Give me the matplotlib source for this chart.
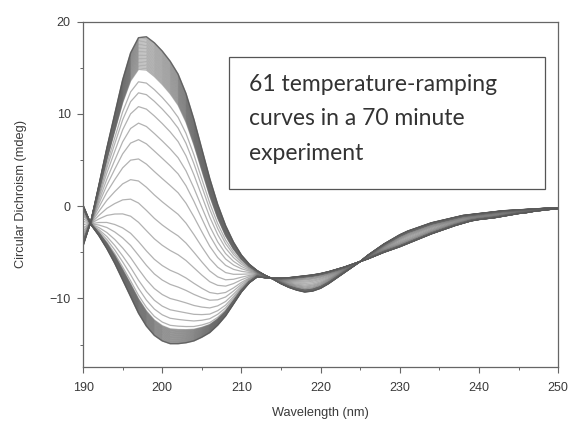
import matplotlib
matplotlib.use("Agg")
import matplotlib.pyplot as plt
import numpy as np
from matplotlib.patches import Rectangle
from matplotlib.ticker import MultipleLocator

# Wavelength grid (nm)
wavelength = list(range(190, 251))

# Spectrum at the start of the ramp (mdeg)
start_spectrum = [
    -4.3, -1.6, 2.3, 6.3, 10.0, 13.7, 16.6, 18.25, 18.35, 17.7,
    16.8, 15.7, 14.3, 12.2, 9.4, 6.2, 3.0, 0.2, -2.1, -3.9,
    -5.3, -6.3, -7.0, -7.5, -7.9, -8.4, -8.8, -9.1, -9.3, -9.2,
    -8.9, -8.4, -7.8, -7.2, -6.6, -6.0, -5.3, -4.7, -4.1, -3.6,
    -3.1, -2.7, -2.4, -2.1, -1.8, -1.6, -1.4, -1.2, -1.0, -0.9,
    -0.8, -0.7, -0.6, -0.5, -0.45, -0.4, -0.35, -0.3, -0.25, -0.2,
    -0.2,
]

# Spectrum at the end of the ramp (mdeg)
end_spectrum = [
    0.1, -2.0, -3.2, -4.6, -6.2, -8.0, -9.8, -11.6, -13.0, -14.0,
    -14.6, -14.9, -14.9, -14.8, -14.6, -14.2, -13.7, -12.9, -11.9, -10.6,
    -9.3, -8.3, -7.65, -7.75, -7.8, -7.8, -7.75, -7.65, -7.55, -7.45,
    -7.3, -7.1, -6.85, -6.6, -6.3, -6.0, -5.7, -5.35, -5.0, -4.7,
    -4.4, -4.05, -3.7, -3.35, -3.0, -2.7, -2.4, -2.1, -1.85, -1.6,
    -1.45, -1.35, -1.25, -1.1, -0.95, -0.8, -0.7, -0.55, -0.45, -0.35,
    -0.3,
]

# Fraction of the start state in each of the 61 recorded curves
start_fraction = [
    1.000, 0.995, 0.990, 0.985, 0.980, 0.975, 0.970, 0.965, 0.960, 0.955,
    0.950, 0.945, 0.940, 0.935, 0.930, 0.925, 0.920, 0.915, 0.910, 0.905,
    0.900, 0.895, 0.890, 0.885,
    0.84, 0.80, 0.75, 0.69, 0.63, 0.56, 0.48, 0.40, 0.33,
    0.26, 0.21, 0.16, 0.12, 0.09, 0.065,
    0.0525, 0.050, 0.0475, 0.045, 0.0425, 0.040, 0.0375, 0.035, 0.0325, 0.030,
    0.0275, 0.025, 0.0225, 0.020, 0.0175, 0.015, 0.0125, 0.010, 0.0075, 0.005,
    0.0025, 0.000,
]

x_ticks = [190, 200, 210, 220, 230, 240, 250]
y_ticks = [-10, 0, 10, 20]
note_lines = ["61 temperature-ramping", "curves in a 70 minute", "experiment"]

fig = plt.figure(figsize=(5.73, 4.23), dpi=100)
ax = fig.add_axes([0.145, 0.133, 0.829, 0.816])

wl = np.array(wavelength)
s0 = np.array(start_spectrum)
s1 = np.array(end_spectrum)
for f in start_fraction:
    ax.plot(wl, f * s0 + (1 - f) * s1, color="#666666", alpha=0.5, lw=0.9,
            solid_capstyle="round", solid_joinstyle="round")
# darker outer curves (first and last of the ramp)
for f in (start_fraction[0], start_fraction[-1]):
    ax.plot(wl, f * s0 + (1 - f) * s1, color="#555555", alpha=0.8, lw=1.0)

ax.set_xlim(190, 250)
ax.set_ylim(-17.4, 20)
ax.set_xticks(x_ticks)
ax.set_yticks(y_ticks)
ax.xaxis.set_minor_locator(MultipleLocator(5))
ax.yaxis.set_minor_locator(MultipleLocator(5))

for sp in ax.spines.values():
    sp.set_color("#666666")
    sp.set_linewidth(0.9)
ax.tick_params(which="major", direction="out", length=4, width=0.8,
               colors="#666666", labelcolor="#3a3a3a", labelsize=9)
ax.tick_params(axis="x", which="major", pad=7)
ax.tick_params(axis="y", which="major", pad=5)
ax.tick_params(which="minor", direction="out", length=2.5, width=0.7,
               colors="#666666")
for lbl in ax.get_xticklabels() + ax.get_yticklabels():
    lbl.set_family("Liberation Sans")

ax.set_xlabel("Wavelength (nm)", fontsize=9.2, color="#3a3a3a",
              family="Liberation Sans", labelpad=9)
ax.set_ylabel("Circular Dichroism (mdeg)", fontsize=9.2, color="#3a3a3a",
              family="Liberation Sans", labelpad=16)

# Annotation box
ax.add_patch(Rectangle((0.307, 0.515), 0.666, 0.383, transform=ax.transAxes,
                       fill=True, facecolor="white", edgecolor="#555555",
                       lw=0.9, zorder=5))
for i, line in enumerate(note_lines):
    ax.text(0.349, 0.817 - i * 0.099, line, transform=ax.transAxes,
            fontsize=16.5, color="#333333", family="Lato",
            va="center", ha="left", zorder=6)

fig.savefig("out.png", dpi=100)
